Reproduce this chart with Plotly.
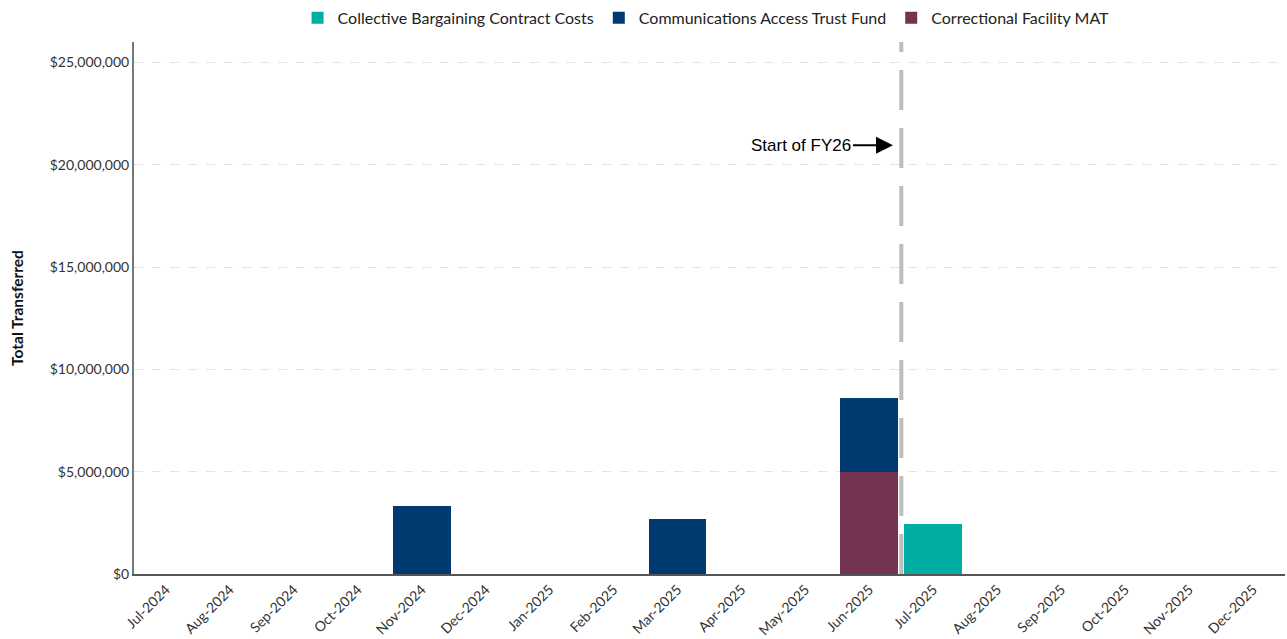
import plotly.graph_objects as go

# months shown on the x axis
meses = ["Jul-2024", "Aug-2024", "Sep-2024", "Oct-2024", "Nov-2024", "Dec-2024",
         "Jan-2025", "Feb-2025", "Mar-2025", "Apr-2025", "May-2025", "Jun-2025",
         "Jul-2025", "Aug-2025", "Sep-2025", "Oct-2025", "Nov-2025", "Dec-2025"]

# transfers per fund (dollars)
collective_bargaining = [0, 0, 0, 0, 0, 0, 0, 0, 0, 0, 0, 0,
                         2440000, 0, 0, 0, 0, 0]
communications_access = [0, 0, 0, 0, 3340000, 0, 0, 0, 2670000, 0, 0, 3610000,
                         0, 0, 0, 0, 0, 0]
correctional_mat = [0, 0, 0, 0, 0, 0, 0, 0, 0, 0, 0, 4970000,
                    0, 0, 0, 0, 0, 0]

fundos = [
    ("Collective Bargaining Contract Costs", collective_bargaining, "#00ADA2", 1),
    ("Correctional Facility MAT", correctional_mat, "#733351", 3),
    ("Communications Access Trust Fund", communications_access, "#003A70", 2),
]

fig = go.Figure()
for nome, valores, cor, rank in fundos:
    fig.add_trace(go.Bar(
        x=meses, y=valores, name=nome, legendrank=rank,
        marker=dict(color=cor, line=dict(width=0)),
    ))

# start of fiscal year line
fig.add_shape(type="line", xref="x", yref="paper", x0=11.5, x1=11.5, y0=0, y1=1,
              line=dict(color="#BDBDBD", width=4, dash="40px,18px"), layer="below")

fig.add_annotation(
    x=11.37, y=20950000, xref="x", yref="y",
    text="Start of FY26", showarrow=True,
    ax=-40, ay=0, xanchor="right", yanchor="middle",
    arrowhead=2, arrowsize=1.7, arrowwidth=2, arrowcolor="black",
    font=dict(family="Liberation Sans, Arial", size=17, color="black"),
)

fig.update_layout(
    barmode="stack",
    bargap=0.094,
    width=1287, height=639,
    margin=dict(l=134, r=2, t=42, b=65, autoexpand=False),
    plot_bgcolor="white",
    paper_bgcolor="white",
    font=dict(family="Lato, Open Sans, sans-serif", size=14, color="#333333"),
    legend=dict(orientation="h", x=0.497, xanchor="center",
                yref="container", y=0.972, yanchor="middle",
                font=dict(size=16, color="#222222"), traceorder="normal",
                itemwidth=30, tracegroupgap=0),
    showlegend=True,
)

fig.update_xaxes(
    type="category", range=[-0.5, 17.5], tickangle=-45,
    showline=True, linecolor="#555555", linewidth=2,
    showgrid=False, ticks="", automargin=False,
    tickfont=dict(size=14, color="#333333"),
)
fig.update_yaxes(
    range=[0, 26000000], tickvals=[0, 5000000, 10000000, 15000000, 20000000, 25000000],
    tickformat="$,.0f",
    showline=True, linecolor="#777777", linewidth=2,
    showgrid=True, gridcolor="#E3E3E3", griddash="dash", gridwidth=1,
    zeroline=False, ticks="", automargin=False,
    title=dict(text="<b>Total Transferred</b>", font=dict(size=15.5, color="#111111"), standoff=22),
    tickfont=dict(size=14, color="#333333"),
)

fig.write_html("out.html", config={"displayModeBar": False},
               post_script="document.body.style.margin='0';")
